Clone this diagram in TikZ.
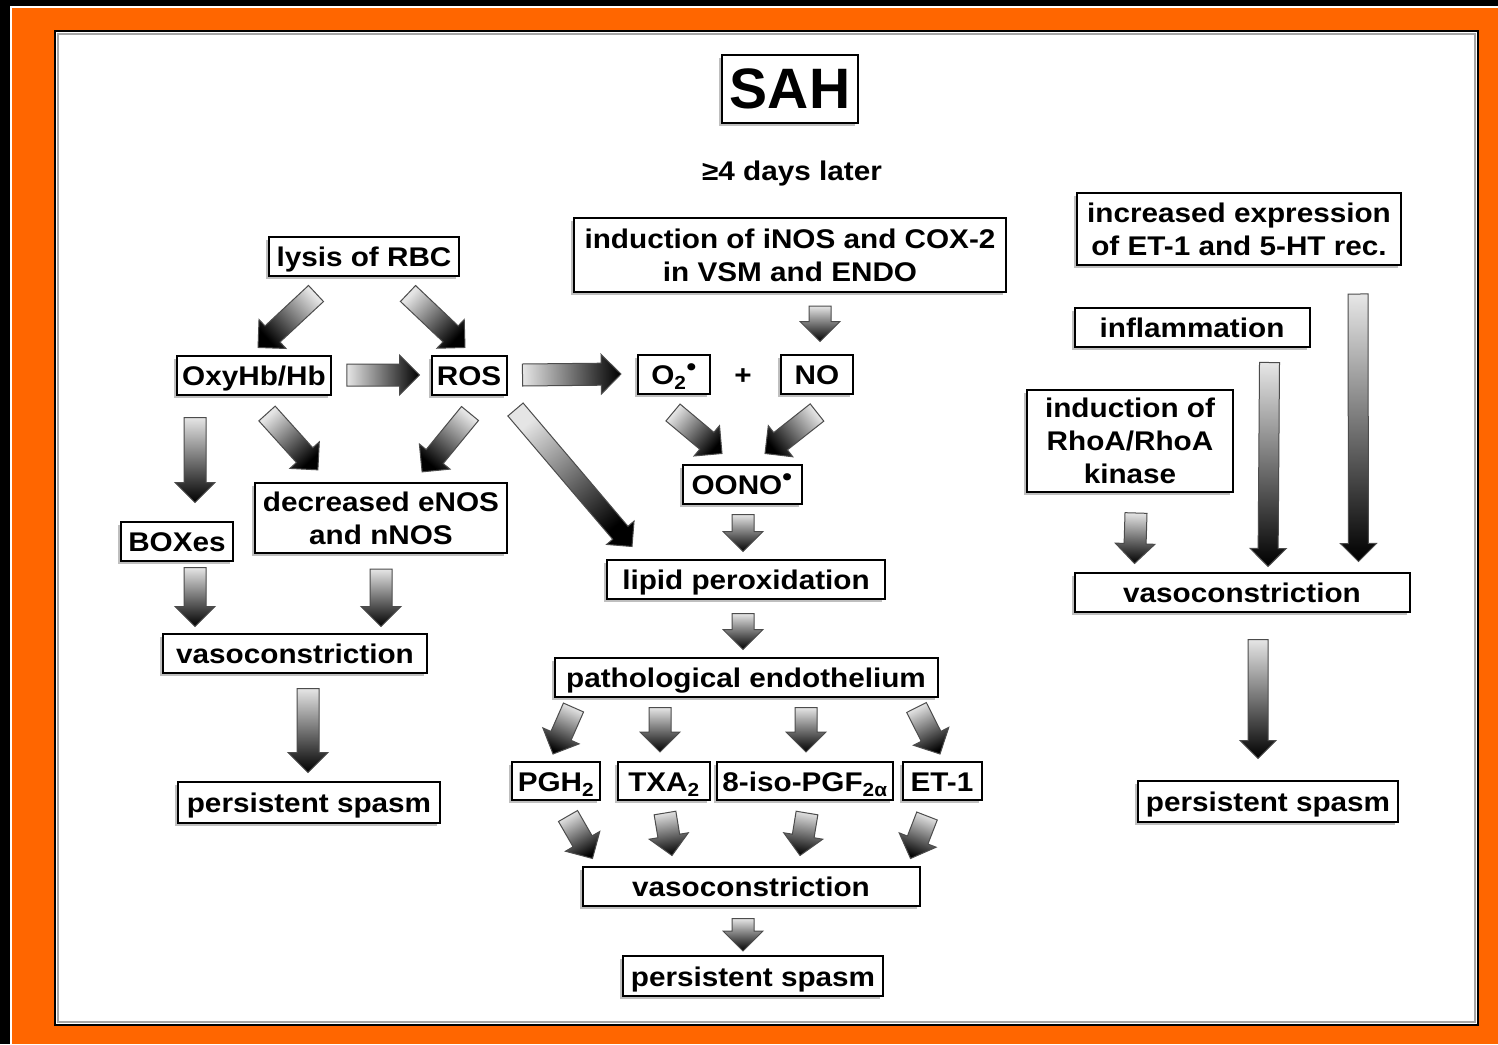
\documentclass[tikz,border=0pt]{standalone}
\usepackage{fontspec}
\setmainfont{Liberation Sans}
\newfontfamily\flowfont[FakeStretch=1.1]{Liberation Sans}
\usetikzlibrary{calc, shadows}
\definecolor{frameorange}{HTML}{FF6600}

% shaded block arrow from a tail point to a tip point
\newcommand{\flowarrow}[3][22]{%
  \path #2 coordinate (fa-tail) #3 coordinate (fa-tip);
  \pgfpointdiff{\pgfpointanchor{fa-tail}{center}}{\pgfpointanchor{fa-tip}{center}}%
  \pgfgetlastxy{\fadx}{\fady}%
  \pgfmathsetmacro{\faang}{atan2(\fady,\fadx)}%
  \pgfmathsetmacro{\falen}{veclen(\fadx,\fady)}%
  \pgfmathsetmacro{\fashade}{\faang+90}%
  \pgfmathsetmacro{\fas}{#1/2}%
  \pgfmathsetmacro{\fah}{0.9*#1}%
  \begin{scope}[shift={(fa-tail)}, rotate=\faang, x=1pt, y=1pt]
    \shade[blockarrow, shading angle=\fashade]
      (0,-\fas) -- (\falen-\fah,-\fas) -- (\falen-\fah,-\fah) -- (\falen,0)
      -- (\falen-\fah,\fah) -- (\falen-\fah,\fas) -- (0,\fas) -- cycle;
  \end{scope}}
\newcommand{\rad}{\textsuperscript{\fontsize{25}{25}\selectfont •}}

\begin{document}
\begin{tikzpicture}[x=1pt, y=-1pt,
    box/.style={draw, line width=2pt, fill=white, align=center,
      inner xsep=5pt, inner ysep=2pt, minimum height=39,
      font=\flowfont\bfseries\fontsize{27}{33}\selectfont,
      drop shadow={shadow xshift=-3pt, shadow yshift=-3pt, opacity=0.5}},
    onebox/.style={box, text height=21pt, text depth=0pt},
    plain/.style={font=\flowfont\bfseries\fontsize{27}{33}\selectfont},
    blockarrow/.style={top color=black!10, bottom color=black, draw=black!70, line width=1pt}
    ]

% frame
\useasboundingbox (0,0) rectangle (1498,1044);
\fill[black] (0,0) rectangle (1498,1044);
\fill[white] (10,6) rectangle (1498,1044);
\fill[frameorange] (12,8) rectangle (1498,1044);
\draw[line width=2.5, fill=white] (55,31) rectangle (1478,1025);
\draw[black!35, line width=1.5] (58,34) rectangle (1475,1022);

\node[box, line width=2.5pt, minimum width=136, minimum height=68,
      font=\bfseries\fontsize{57}{60}\selectfont] (sah) at (790,89) {SAH};
\node[plain] (later) at (792,174) {≥4 days later};

\node[box, minimum width=432, minimum height=74] (inos) at (790,255) {induction of iNOS and COX-2\\in VSM and ENDO};
\node[box, minimum width=324, minimum height=72] (incr) at (1239,229) {increased expression\\of ET-1 and 5-HT rec.};
\node[onebox, minimum width=190] (lysis) at (364,256) {lysis of RBC};
\node[onebox, minimum width=235] (infl) at (1192,327) {inflammation};
\node[onebox, minimum width=153] (oxy) at (254,375) {OxyHb/Hb};
\node[onebox, minimum width=75] (ros) at (469,375) {ROS};
\node[onebox, minimum width=72] (otwo) at (674,374) {O\textsubscript{2}\rad};
\node[plain] (plus) at (743,377) {+};
\node[onebox, minimum width=72] (no) at (817,374) {NO};
\node[box, minimum width=206, minimum height=102] (rho) at (1130,441) {induction of\\RhoA/RhoA\\kinase};
\node[onebox, minimum width=119] (oono) at (742,484) {OONO\rad};
\node[onebox, minimum width=112] (boxes) at (177,541) {BOXes};
\node[box, minimum width=252, minimum height=70] (decr) at (381,518) {decreased eNOS\\and nNOS};
\node[onebox, minimum width=278] (lipid) at (746,579) {lipid peroxidation};
\node[onebox, minimum width=264] (vasol) at (295,653) {vasoconstriction};
\node[onebox, minimum width=335] (vasor) at (1242,592) {vasoconstriction};
\node[onebox, minimum width=383] (patho) at (746,677) {pathological endothelium};
\node[onebox, minimum width=88, minimum height=38] (pgh) at (556,781) {PGH\textsubscript{2}};
\node[onebox, minimum width=92, minimum height=38] (txa) at (664,781) {TXA\textsubscript{2}};
\node[onebox, minimum width=174, minimum height=38] (iso) at (805,781) {8-iso-PGF\textsubscript{2α}};
\node[onebox, minimum width=79, minimum height=38] (etone) at (942,781) {ET-1};
\node[onebox, minimum width=262, minimum height=41] (persl) at (309,802) {persistent spasm};
\node[onebox, minimum width=260, minimum height=41] (persr) at (1268,801) {persistent spasm};
\node[onebox, minimum width=337] (vasob) at (751,886) {vasoconstriction};
\node[onebox, minimum width=260, minimum height=40] (persb) at (753,976) {persistent spasm};

% left branch
\flowarrow{($(lysis.south)+(-48,17)$)}{($(oxy.north)+(4,-7)$)}
\flowarrow{($(lysis.south)+(44,17)$)}{($(ros.north)+(-4,-7)$)}
\flowarrow{($(oxy.east)+(15,0)$)}{($(ros.west)+(-11,0)$)}
\flowarrow{($(ros.east)+(15,0)$)}{($(otwo.west)+(-16,0)$)}
\flowarrow{($(oxy.south)+(-59,22)$)}{($(boxes.north)+(18,-18)$)}
\flowarrow{($(oxy.south)+(13,18)$)}{($(decr.north)+(-63,-12)$)}
\flowarrow{($(ros.south)+(1,18)$)}{($(decr.north)+(41,-10)$)}
\flowarrow[20]{($(ros.south east)+(8,14)$)}{($(lipid.north west)+(26,-12)$)}
\flowarrow{($(boxes.south)+(18,6)$)}{($(vasol.north)+(-100,-6)$)}
\flowarrow{($(decr.south)+(0,15)$)}{($(vasol.north)+(86,-6)$)}
\flowarrow{($(vasol.south)+(13,15)$)}{($(persl.north)+(-1,-8)$)}

% middle branch
\flowarrow{($(inos.south)+(30,13)$)}{($(no.north)+(3,-12)$)}
\flowarrow{($(otwo.south)+(-1,18)$)}{($(oono.north)+(-20,-10)$)}
\flowarrow{($(no.south)+(0,18)$)}{($(oono.north)+(23,-10)$)}
\flowarrow{($(oono.south)+(1,10)$)}{($(lipid.north)+(-3,-7)$)}
\flowarrow{($(lipid.south)+(-3,14)$)}{($(patho.north)+(-3,-7)$)}
\flowarrow{($(patho.south west)+(20,10)$)}{($(pgh.north)+(-3,-7)$)}
\flowarrow{($(patho.south)+(-86,10)$)}{($(txa.north)+(-4,-9)$)}
\flowarrow{($(patho.south)+(60,10)$)}{($(iso.north)+(1,-9)$)}
\flowarrow{($(patho.south east)+(-22,10)$)}{($(etone.north)+(-2,-7)$)}
\flowarrow{($(pgh.south)+(12,15)$)}{($(vasob.north west)+(11,-7)$)}
\flowarrow{($(txa.south)+(1,12)$)}{($(vasob.north)+(-79,-10)$)}
\flowarrow{($(iso.south)+(2,12)$)}{($(vasob.north)+(49,-10)$)}
\flowarrow{($(etone.south)+(-15,15)$)}{($(vasob.north east)+(-10,-7)$)}
\flowarrow{($(vasob.south)+(-8,12)$)}{($(persb.north)+(-10,-4)$)}

% right branch
\flowarrow{($(rho.south)+(6,20)$)}{($(vasor.north west)+(61,-8)$)}
\flowarrow[20]{($(infl.south east)+(-41,15)$)}{($(vasor.north)+(26,-5)$)}
\flowarrow[20]{($(incr.south east)+(-44,28)$)}{($(vasor.north east)+(-52,-10)$)}
\flowarrow[20]{($(vasor.south)+(16,27)$)}{($(persr.north)+(-10,-21)$)}

\end{tikzpicture}
\end{document}
